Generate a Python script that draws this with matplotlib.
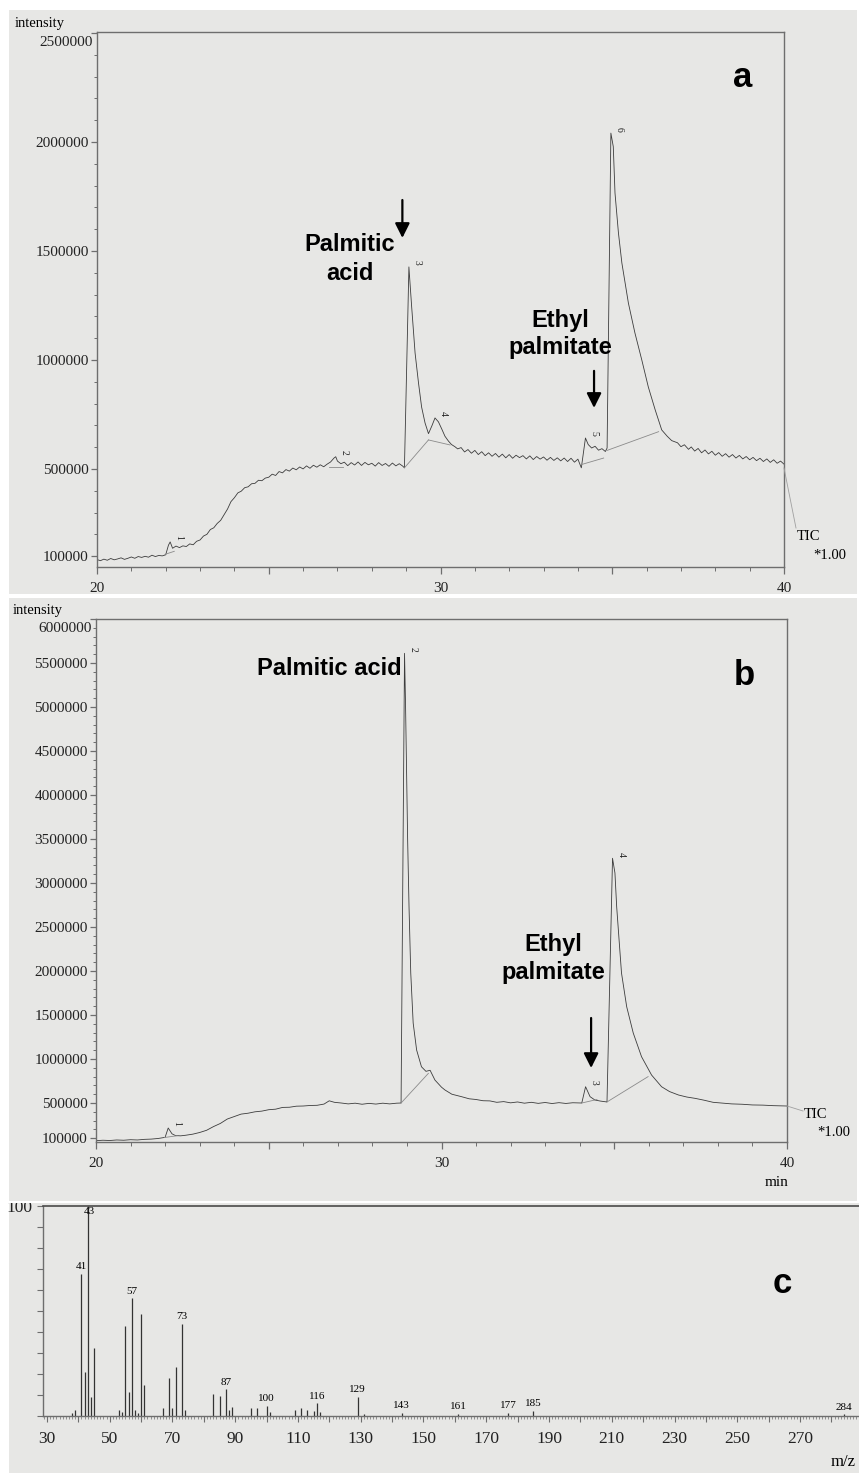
"""GC-MS figure: two TIC chromatograms (a, b) and a mass spectrum (c)."""
import matplotlib
matplotlib.use("Agg")
import matplotlib.pyplot as plt
from matplotlib.patches import Rectangle
from matplotlib.lines import Line2D
from matplotlib.ticker import MultipleLocator

plt.rcParams["font.family"] = ["Liberation Serif", "DejaVu Serif"]

# ---- panel a: TIC (time in min, intensity in 1000 counts)
TIME_A = [20.0, 20.1, 20.2, 20.3, 20.4, 20.5, 20.6, 20.7, 20.8, 20.9,
          21.0, 21.1, 21.2, 21.3, 21.4, 21.5, 21.6, 21.7, 21.8, 21.9,
          22.0, 22.08, 22.13, 22.2, 22.3, 22.4, 22.5, 22.6, 22.7, 22.8,
          22.9, 23.0, 23.1, 23.2, 23.3, 23.4, 23.5, 23.6, 23.7, 23.8,
          23.9, 24.0, 24.1, 24.2, 24.3, 24.4, 24.5, 24.6, 24.7, 24.8,
          24.9, 25.0, 25.1, 25.2, 25.3, 25.4, 25.5, 25.6, 25.7, 25.8,
          25.9, 26.0, 26.1, 26.2, 26.3, 26.4, 26.5, 26.6, 26.7, 26.8,
          26.9, 26.95, 27.0, 27.1, 27.2, 27.3, 27.4, 27.5, 27.6, 27.7,
          27.8, 27.9, 28.0, 28.1, 28.2, 28.3, 28.4, 28.5, 28.6, 28.7,
          28.8, 28.9, 28.95, 29.08, 29.16, 29.26, 29.36, 29.45, 29.55, 29.65,
          29.75, 29.84, 29.94, 30.04, 30.13, 30.23, 30.32, 30.42, 30.5, 30.6,
          30.7, 30.8, 30.9, 31.0, 31.1, 31.2, 31.3, 31.4, 31.5, 31.6,
          31.7, 31.8, 31.9, 32.0, 32.1, 32.2, 32.3, 32.4, 32.5, 32.6,
          32.7, 32.8, 32.9, 33.0, 33.1, 33.2, 33.3, 33.4, 33.5, 33.6,
          33.7, 33.8, 33.9, 34.0, 34.1, 34.22, 34.3, 34.4, 34.5, 34.6,
          34.7, 34.8, 34.85, 34.96, 35.03, 35.08, 35.18, 35.28, 35.47, 35.66,
          35.86, 36.05, 36.25, 36.44, 36.6, 36.73, 36.9, 37.0, 37.1, 37.22,
          37.3, 37.4, 37.5, 37.6, 37.7, 37.8, 37.9, 38.0, 38.1, 38.2,
          38.3, 38.4, 38.5, 38.6, 38.7, 38.8, 38.9, 39.0, 39.1, 39.2,
          39.3, 39.4, 39.5, 39.6, 39.7, 39.8, 39.9, 40.0]
SIGNAL_A = [84, 79, 86, 81, 89, 83, 87, 92, 85, 90,
            96, 90, 98, 94, 99, 95, 104, 98, 103, 101,
            106, 150, 165, 136, 146, 139, 147, 144, 156, 152,
            168, 174, 192, 200, 222, 230, 250, 264, 290, 316,
            350, 368, 390, 398, 414, 418, 432, 434, 448, 446,
            458, 462, 476, 470, 488, 482, 497, 490, 504, 496,
            509, 500, 514, 503, 517, 508, 519, 510, 522, 532,
            550, 556, 536, 524, 531, 515, 529, 518, 532, 516,
            530, 519, 526, 513, 529, 516, 525, 512, 527, 514,
            524, 513, 505, 1427, 1245, 1032, 894, 784, 711, 662,
            698, 734, 716, 682, 650, 628, 612, 602, 592, 598,
            578, 589, 572, 585, 566, 579, 561, 574, 558, 571,
            554, 568, 551, 566, 549, 563, 552, 561, 546, 560,
            543, 557, 545, 555, 540, 553, 539, 551, 537, 550,
            534, 549, 531, 545, 505, 642, 612, 596, 604, 586,
            593, 580, 596, 2041, 1979, 1766, 1583, 1445, 1261, 1124,
            1000, 876, 771, 679, 650, 630, 620, 602, 611, 590,
            601, 582, 594, 574, 587, 569, 581, 563, 575, 558,
            570, 554, 566, 550, 562, 546, 557, 542, 553, 538,
            549, 534, 546, 530, 542, 526, 536, 522]
PEAK_NO_A = ["1", "2", "3", "4", "5", "6"]
PEAK_T_A = [22.13, 26.95, 29.08, 29.84, 34.22, 34.96]
PEAK_I_A = [165, 556, 1427, 734, 642, 2041]
# integration baselines: (t0, t1), (i0, i1)
BASES_A = [((21.98, 22.25), (108, 122)), ((26.74, 27.17), (510, 510)),
           ((28.95, 29.65), (505, 633)), ((29.65, 30.28), (633, 610)),
           ((34.10, 34.75), (520, 550)), ((34.85, 36.35), (585, 671))]

# ---- panel b: TIC
TIME_B = [20.0, 20.2, 20.4, 20.6, 20.8, 21.0, 21.2, 21.4, 21.6, 21.8,
          22.0, 22.09, 22.2, 22.3, 22.45, 22.6, 22.8, 23.0, 23.2, 23.4,
          23.6, 23.8, 24.0, 24.2, 24.4, 24.6, 24.8, 25.0, 25.2, 25.4,
          25.6, 25.8, 26.0, 26.2, 26.4, 26.6, 26.75, 26.9, 27.1, 27.3,
          27.5, 27.7, 27.9, 28.1, 28.3, 28.5, 28.7, 28.83, 28.93, 28.96,
          28.99, 29.02, 29.06, 29.11, 29.18, 29.28, 29.42, 29.55, 29.67, 29.81,
          30.0, 30.1, 30.3, 30.58, 30.8, 31.0, 31.2, 31.4, 31.6, 31.8,
          32.0, 32.2, 32.4, 32.6, 32.8, 33.0, 33.2, 33.4, 33.6, 33.8,
          34.06, 34.17, 34.3, 34.44, 34.6, 34.73, 34.79, 34.95, 35.02, 35.07,
          35.14, 35.21, 35.36, 35.55, 35.79, 36.08, 36.37, 36.6, 36.86, 37.1,
          37.34, 37.6, 37.86, 38.1, 38.4, 38.7, 39.0, 39.3, 39.6, 39.8,
          40.0]
SIGNAL_B = [72, 77, 74, 80, 77, 83, 80, 87, 90, 97,
            110, 216, 150, 130, 127, 134, 146, 165, 190, 232,
            268, 318, 346, 374, 384, 400, 408, 424, 430, 450,
            452, 464, 466, 472, 474, 488, 525, 508, 500, 490,
            498, 486, 496, 488, 498, 490, 498, 500, 5610, 5004,
            4250, 3489, 2730, 1977, 1409, 1102, 912, 860, 872, 761,
            680, 648, 600, 572, 548, 540, 526, 524, 508, 516,
            502, 512, 498, 508, 496, 506, 494, 504, 495, 503,
            500, 685, 572, 534, 522, 515, 512, 3281, 3114, 2731,
            2352, 1977, 1594, 1295, 1026, 818, 685, 630, 591, 568,
            553, 532, 508, 500, 490, 486, 478, 476, 470, 468,
            466]
PEAK_NO_B = ["1", "2", "3", "4"]
PEAK_T_B = [22.09, 28.93, 34.17, 34.95]
PEAK_I_B = [216, 5610, 685, 3281]
BASES_B = [((21.98, 22.35), (108, 128)), ((28.83, 29.62), (500, 837)),
           ((34.06, 34.50), (500, 540)), ((34.79, 35.98), (512, 800))]

# ---- panel c: mass spectrum (relative abundance, %)
MZ = [38, 39, 41, 42, 43, 44, 45, 53, 54, 55, 56, 57, 58, 59, 60, 61,
      67, 69, 70, 71, 73, 74, 83, 85, 87, 88, 89, 95, 97, 100, 101,
      109, 111, 113, 115, 116, 117, 129, 131, 143, 161, 177, 185, 284]
REL = [1.5, 3, 67.5, 21, 100, 9, 32.5, 3, 2, 43, 11.5, 56, 3, 1.5, 48.5, 15,
       3.7, 18, 4, 23.5, 44, 3, 10.3, 9.5, 12.7, 3, 4.4, 4, 3.7, 4.8, 1.7,
       3, 3.7, 3, 2.5, 6, 2, 9.2, 1, 1.5, 1, 1.5, 2.5, 0.8]
MZ_LABELED = [41, 43, 57, 73, 87, 100, 116, 129, 143, 161, 177, 185, 284]

W, H = 859, 1473
BG = "#e7e7e5"
INK = "#3c3c3c"
AXC = "#6e6e6e"


def fx(px):
    return px / W


def fy(py):
    return 1 - py / H


def ftext(px, py, s, **kw):
    fig.text(fx(px), fy(py), s, **kw)


fig = plt.figure(figsize=(W / 100, H / 100), dpi=100, facecolor="white")

# grey scan backgrounds of the three panels
for x0, y0, x1, y1 in [(9, 10, 857, 594), (9, 598, 857, 1201), (9, 1203, 859, 1473)]:
    fig.add_artist(Rectangle((fx(x0), fy(y1)), fx(x1) - fx(x0), fy(y0) - fy(y1),
                             transform=fig.transFigure, facecolor=BG,
                             edgecolor="none", zorder=-5))


def chrom_axes(rect, ylim, yticks):
    ax = fig.add_axes(rect)
    ax.set_facecolor("none")
    ax.set_xlim(20, 40)
    ax.set_ylim(*ylim)
    ax.set_xticks([20, 25, 30, 35, 40], ["20", "", "30", "", "40"])
    ax.xaxis.set_minor_locator(MultipleLocator(1))
    # top label is drawn separately, a little lower, as in the scan
    ax.set_yticks(yticks, [str(v) for v in yticks[:-1]] + [""])
    ax.annotate(str(yticks[-1]), (0, yticks[-1]), xycoords=("axes fraction", "data"),
                xytext=(-3, -7), textcoords="offset points", ha="right", va="center",
                fontsize=11, color="#222222")
    ax.yaxis.set_minor_locator(MultipleLocator(100000))
    ax.tick_params(which="major", length=4, width=0.9, color=AXC,
                   labelsize=11, labelcolor="#222222")
    ax.tick_params(which="minor", length=2.3, width=0.7, color=AXC)
    ax.tick_params(axis="x", which="major", length=5, pad=6)
    ax.tick_params(axis="x", which="minor", length=3)
    ax.tick_params(axis="y", pad=2)
    for s in ax.spines.values():
        s.set_color(AXC)
        s.set_linewidth(1.0)
    return ax


def draw_trace(ax, t, sig, bases, pk_no, pk_t, pk_i):
    ax.plot(t, [v * 1000 for v in sig], color=INK, lw=0.6)
    for (t0, t1), (i0, i1) in bases:
        ax.plot([t0, t1], [i0 * 1000, i1 * 1000], color="#8a8a8a", lw=0.6)
    for n, pt, pi in zip(pk_no, pk_t, pk_i):
        ax.annotate(n, (pt, pi * 1000), xytext=(6, 3), textcoords="offset points",
                    rotation=-90, fontsize=7, ha="center", va="center", color="#222222")


bold = dict(family=["Liberation Sans", "DejaVu Sans"], weight="bold", color="black")
arrow = dict(arrowstyle="-|>", color="black", lw=1.6, mutation_scale=22,
             shrinkA=0, shrinkB=0)

# ---- a
ax_a = chrom_axes([fx(97), fy(567), fx(784) - fx(97), fy(32) - fy(567)],
                  (50000, 2505000),
                  [100000, 500000, 1000000, 1500000, 2000000, 2500000])
draw_trace(ax_a, TIME_A, SIGNAL_A, BASES_A, PEAK_NO_A, PEAK_T_A, PEAK_I_A)
ax_a.annotate("", xy=(28.89, 1560000), xytext=(28.89, 1734000), arrowprops=arrow)
ax_a.annotate("", xy=(34.47, 780000), xytext=(34.47, 950000), arrowprops=arrow)

ftext(15, 23, "intensity", fontsize=10.5, ha="left", va="center")
ftext(350, 251, "Palmitic", fontsize=17, ha="center", va="baseline", **bold)
ftext(350, 280, "acid", fontsize=17, ha="center", va="baseline", **bold)
ftext(560, 327, "Ethyl", fontsize=17, ha="center", va="baseline", **bold)
ftext(560, 354, "palmitate", fontsize=17, ha="center", va="baseline", **bold)
ftext(743, 87, "a", fontsize=25, ha="center", va="baseline", **bold)
ftext(797, 537, "TIC", fontsize=10.5, ha="left", va="center")
ftext(813, 556, "*1.00", fontsize=10.5, ha="left", va="center")
fig.add_artist(Line2D([fx(784), fx(796)], [fy(468), fy(528)],
                      transform=fig.transFigure, color="#a0a0a0", lw=0.6))

# ---- b
ax_b = chrom_axes([fx(96), fy(1142), fx(787) - fx(96), fy(619) - fy(1142)],
                  (57000, 6000000),
                  [100000] + list(range(500000, 6000001, 500000)))
draw_trace(ax_b, TIME_B, SIGNAL_B, BASES_B, PEAK_NO_B, PEAK_T_B, PEAK_I_B)
ax_b.annotate("", xy=(34.33, 898000), xytext=(34.33, 1466000), arrowprops=arrow)

ftext(13, 610, "intensity", fontsize=10.5, ha="left", va="center")
ftext(402, 675, "Palmitic acid", fontsize=17, ha="right", va="baseline", **bold)
ftext(553, 951, "Ethyl", fontsize=17, ha="center", va="baseline", **bold)
ftext(553, 979, "palmitate", fontsize=17, ha="center", va="baseline", **bold)
ftext(744, 685, "b", fontsize=25, ha="center", va="baseline", **bold)
ftext(804, 1114, "TIC", fontsize=10.5, ha="left", va="center")
ftext(817, 1133, "*1.00", fontsize=10.5, ha="left", va="center")
ftext(777, 1183, "min", fontsize=11, ha="center", va="center")
fig.add_artist(Line2D([fx(787), fx(803)], [fy(1106), fy(1111)],
                      transform=fig.transFigure, color="#a0a0a0", lw=0.6))

# ---- c
ax_c = fig.add_axes([fx(43), fy(1416), fx(859) - fx(43), fy(1206) - fy(1416)])
ax_c.set_facecolor("none")
ax_c.vlines(MZ, 0, REL, color="#333333", lw=0.9)
ax_c.set_xlim(28.73, 288.8)
ax_c.set_ylim(0, 100)
xt = list(range(30, 281, 10))
ax_c.set_xticks(xt, [str(v) if (v - 30) % 20 == 0 else "" for v in xt])
ax_c.xaxis.set_minor_locator(MultipleLocator(1))
ax_c.set_yticks(list(range(0, 101, 10)), [""] * 10 + ["100"])
ax_c.tick_params(which="major", length=4, width=0.8, color=AXC,
                 labelsize=12.5, labelcolor="#222222")
ax_c.tick_params(axis="x", which="major", pad=7)
ax_c.tick_params(which="minor", length=2, width=0.5, color=AXC)
ax_c.spines["right"].set_visible(False)
for side in ("left", "bottom"):
    ax_c.spines[side].set_color(AXC)
    ax_c.spines[side].set_linewidth(1.0)
ax_c.spines["top"].set_color("#4a4a4a")
ax_c.spines["top"].set_linewidth(1.2)
for m in MZ_LABELED:
    h = REL[MZ.index(m)]
    if h > 90:
        ax_c.annotate(str(m), (m, h), xytext=(1, -1), textcoords="offset points",
                      ha="center", va="top", fontsize=8)
    else:
        ax_c.annotate(str(m), (m, h), xytext=(0, 2), textcoords="offset points",
                      ha="center", va="bottom", fontsize=8)

ftext(782, 1293, "c", fontsize=25, ha="center", va="baseline", **bold)
ftext(856, 1462, "m/z", fontsize=12, ha="right", va="center")

# band between b and c hides the top of the "100" label, as in the scan
fig.add_artist(Rectangle((fx(9), fy(1201)), fx(857) - fx(9), fy(1193) - fy(1201),
                         transform=fig.transFigure, facecolor=BG, edgecolor="none", zorder=5))
fig.add_artist(Rectangle((0, fy(1203)), 1, fy(1201) - fy(1203),
                         transform=fig.transFigure, facecolor="white", edgecolor="none", zorder=5))

fig.savefig("out.png", dpi=100)
plt.close(fig)
